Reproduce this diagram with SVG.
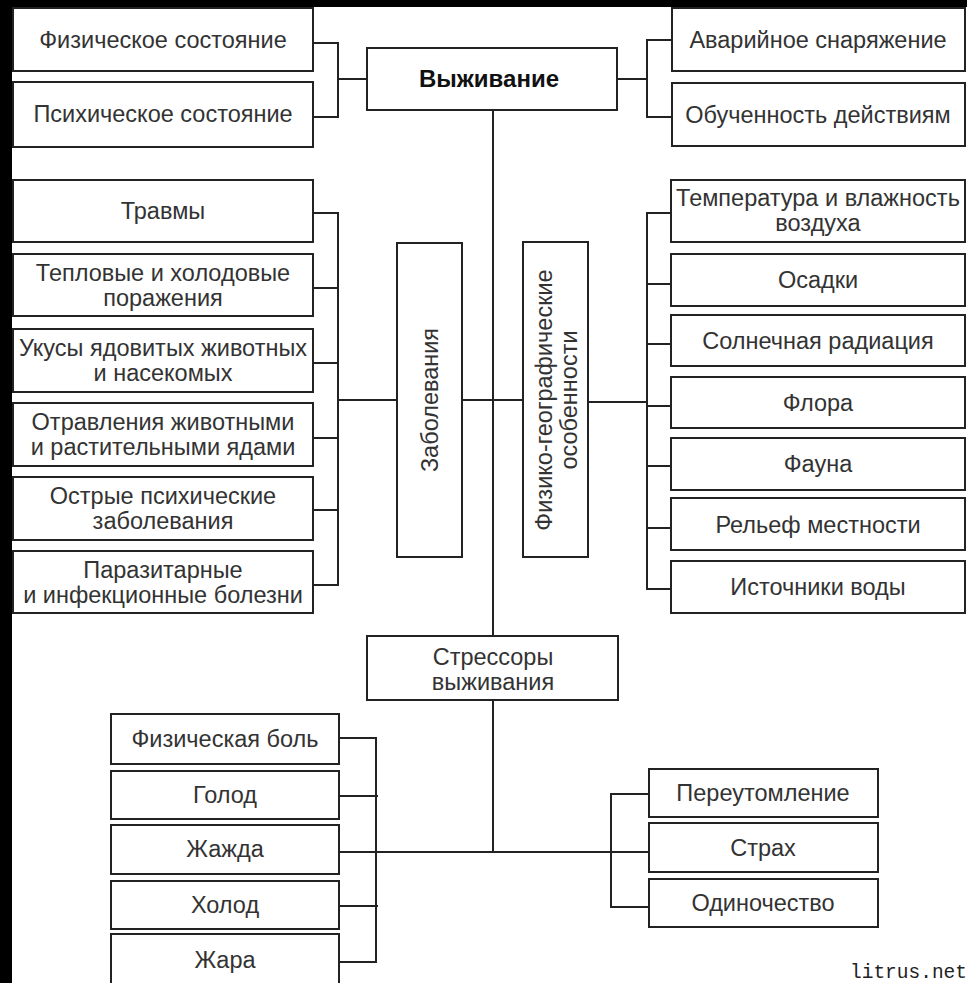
<svg xmlns="http://www.w3.org/2000/svg" width="967" height="983" viewBox="0 0 967 983">
<style>
.box{fill:#fff;stroke:#222;stroke-width:2}
.t{font-family:"Liberation Sans",Arial,sans-serif;font-size:23.5px;fill:#333;text-anchor:middle}
.b{font-weight:bold;font-size:24px;fill:#111}
.c{fill:none;stroke:#222;stroke-width:2}
.w{font-family:"Liberation Mono","DejaVu Sans Mono",monospace;font-size:19.5px;fill:#222}
</style>
<rect x="0" y="0" width="967" height="983" fill="#000"/>
<rect x="12" y="7" width="955" height="976" fill="#fff"/>

<g id="connectors" class="c">
  <path d="M313 43H338V117H313M338 79H367"/>
  <path d="M617 79H647M672 40H647V117H672"/>
  <path d="M493 110V636M493 700V852"/>
  <path d="M313 213H338V585H313M313 288H338M313 363H338M313 438H338M313 510H338M338 400H397M462 400H523"/>
  <path d="M588 402H647M671 213H647V589H671M647 284H671M647 344H671M647 406H671M647 466H671M647 528H671"/>
  <path d="M339 738H376V962H339M339 796H378M339 906H378M339 852H649"/>
  <path d="M649 794H611V907H649"/>
</g>

<g id="n-phys"><rect class="box" x="13" y="8" width="300" height="63"/><text class="t" x="163" y="48">Физическое состояние</text></g>
<g id="n-psych"><rect class="box" x="13" y="82" width="300" height="65"/><text class="t" x="163" y="122">Психическое состояние</text></g>
<g id="n-surv"><rect class="box" x="367" y="48" width="250" height="62"/><text class="t b" x="489" y="87">Выживание</text></g>
<g id="n-equip"><rect class="box" x="672" y="8" width="293" height="63"/><text class="t" x="818" y="48">Аварийное снаряжение</text></g>
<g id="n-train"><rect class="box" x="672" y="83" width="293" height="63"/><text class="t" x="818" y="123">Обученность действиям</text></g>

<g id="n-trauma"><rect class="box" x="13" y="180" width="300" height="62"/><text class="t" x="163" y="219">Травмы</text></g>
<g id="n-heat"><rect class="box" x="13" y="254" width="300" height="62"/><text class="t" x="163" y="281">Тепловые и холодовые<tspan x="163" dy="25">поражения</tspan></text></g>
<g id="n-bites"><rect class="box" x="13" y="329" width="300" height="63"/><text class="t" x="163" y="356">Укусы ядовитых животных<tspan x="163" dy="25">и насекомых</tspan></text></g>
<g id="n-poison"><rect class="box" x="13" y="403" width="300" height="63"/><text class="t" x="163" y="430">Отравления животными<tspan x="163" dy="25">и растительными ядами</tspan></text></g>
<g id="n-mental"><rect class="box" x="13" y="477" width="300" height="63"/><text class="t" x="163" y="504">Острые психические<tspan x="163" dy="25">заболевания</tspan></text></g>
<g id="n-infect"><rect class="box" x="13" y="551" width="300" height="62"/><text class="t" x="163" y="578">Паразитарные<tspan x="163" dy="25">и инфекционные болезни</tspan></text></g>

<g id="n-disease"><rect class="box" x="397" y="243" width="65" height="314"/><text class="t" transform="translate(438,400) rotate(-90)">Заболевания</text></g>
<g id="n-geo"><rect class="box" x="523" y="242" width="65" height="315"/><text class="t" transform="translate(555.5,400) rotate(-90)"><tspan x="0" y="-4">Физико-географические</tspan><tspan x="0" y="21">особенности</tspan></text></g>

<g id="n-temp"><rect class="box" x="671" y="180" width="294" height="62"/><text class="t" x="818" y="206">Температура и влажность<tspan x="818" dy="25">воздуха</tspan></text></g>
<g id="n-precip"><rect class="box" x="671" y="254" width="294" height="52"/><text class="t" x="818" y="288">Осадки</text></g>
<g id="n-solar"><rect class="box" x="671" y="315" width="294" height="51"/><text class="t" x="818" y="349">Солнечная радиация</text></g>
<g id="n-flora"><rect class="box" x="671" y="377" width="294" height="51"/><text class="t" x="818" y="411">Флора</text></g>
<g id="n-fauna"><rect class="box" x="671" y="438" width="294" height="52"/><text class="t" x="818" y="472">Фауна</text></g>
<g id="n-relief"><rect class="box" x="671" y="498" width="294" height="52"/><text class="t" x="818" y="533">Рельеф местности</text></g>
<g id="n-water"><rect class="box" x="671" y="561" width="294" height="52"/><text class="t" x="818" y="595">Источники воды</text></g>

<g id="n-stress"><rect class="box" x="367" y="636" width="251" height="64"/><text class="t" x="493" y="665">Стрессоры<tspan x="493" dy="25">выживания</tspan></text></g>

<g id="n-pain"><rect class="box" x="111" y="714" width="228" height="50"/><text class="t" x="225" y="747">Физическая боль</text></g>
<g id="n-hunger"><rect class="box" x="111" y="771" width="228" height="48"/><text class="t" x="225" y="803">Голод</text></g>
<g id="n-thirst"><rect class="box" x="111" y="825" width="228" height="49"/><text class="t" x="225" y="857">Жажда</text></g>
<g id="n-cold"><rect class="box" x="111" y="881" width="228" height="48"/><text class="t" x="225" y="913">Холод</text></g>
<g id="n-heatb"><rect class="box" x="111" y="934" width="228" height="60"/><text class="t" x="225" y="968">Жара</text></g>

<g id="n-fatigue"><rect class="box" x="649" y="769" width="229" height="48"/><text class="t" x="763" y="801">Переутомление</text></g>
<g id="n-fear"><rect class="box" x="649" y="823" width="229" height="49"/><text class="t" x="763" y="856">Страх</text></g>
<g id="n-lonely"><rect class="box" x="649" y="879" width="229" height="48"/><text class="t" x="763" y="911">Одиночество</text></g>

<text class="w" x="850" y="978">litrus.net</text>
</svg>
